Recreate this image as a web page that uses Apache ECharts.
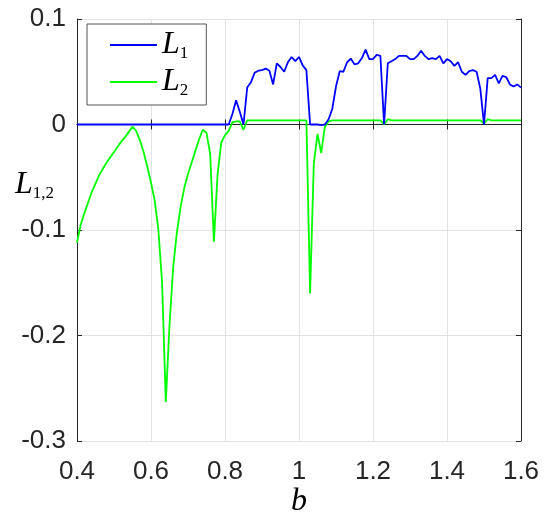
<!DOCTYPE html>
<html>
<head>
<meta charset="utf-8">
<script src="https://cdn.jsdelivr.net/npm/echarts@6/dist/echarts.min.js"></script>
<style>
  html, body { margin: 0; padding: 0; background: #fff; }
  #main { width: 544px; height: 523px; }
</style>
</head>
<body>
<div id="main"></div>
<script>
// L1 and L2 sampled every 0.01 from b = 0.40 to 1.60
const l1 = [
  0, 0, 0, 0, 0, 0, 0, 0, 0, 0,
  0, 0, 0, 0, 0, 0, 0, 0, 0, 0,
  0, 0, 0, 0, 0, 0, 0, 0, 0, 0,
  0, 0, 0, 0, 0, 0, 0, 0, 0, 0,
  0, 0, 0.010, 0.023, 0.012, 0.000, 0.035, 0.040, 0.049, 0.051,
  0.0515, 0.053, 0.051, 0.038, 0.058, 0.0545, 0.050, 0.059, 0.064, 0.060,
  0.064, 0.056, 0.0515, 0.000, 0.000, 0.000, -0.0005, 0.000, 0.005, 0.015,
  0.036, 0.0505, 0.050, 0.059, 0.0625, 0.057, 0.058, 0.063, 0.071, 0.062,
  0.062, 0.066, 0.065, 0.000, 0.058, 0.060, 0.062, 0.065, 0.065, 0.065,
  0.062, 0.062, 0.065, 0.070, 0.065, 0.062, 0.063, 0.062, 0.065, 0.058,
  0.062, 0.060, 0.0556, 0.059, 0.050, 0.047, 0.0505, 0.0515, 0.050, 0.034,
  0.000, 0.044, 0.044, 0.047, 0.039, 0.046, 0.045, 0.038, 0.036, 0.038,
  0.035
];
const l2 = [
  -0.112, -0.095, -0.084, -0.074, -0.064, -0.056, -0.048, -0.042, -0.036, -0.031,
  -0.026, -0.021, -0.016, -0.012, -0.007, -0.002, -0.006, -0.015, -0.026, -0.040,
  -0.055, -0.072, -0.100, -0.150, -0.263, -0.190, -0.135, -0.102, -0.078, -0.060,
  -0.047, -0.036, -0.025, -0.014, -0.005, -0.008, -0.028, -0.111, -0.047, -0.017,
  -0.010, -0.006, 0.002, 0.003, 0.003, -0.005, 0.004, 0.004, 0.004, 0.004,
  0.004, 0.004, 0.004, 0.004, 0.004, 0.004, 0.004, 0.004, 0.004, 0.004,
  0.004, 0.004, 0.004, -0.160, -0.037, -0.009, -0.027, -0.002, 0.003, 0.004,
  0.004, 0.004, 0.004, 0.004, 0.004, 0.004, 0.004, 0.004, 0.004, 0.004,
  0.004, 0.004, 0.004, 0.000, 0.005, 0.004, 0.004, 0.004, 0.004, 0.004,
  0.004, 0.004, 0.004, 0.004, 0.004, 0.004, 0.004, 0.004, 0.004, 0.004,
  0.004, 0.004, 0.004, 0.004, 0.004, 0.004, 0.004, 0.004, 0.004, 0.004,
  0.001, 0.005, 0.004, 0.004, 0.004, 0.004, 0.004, 0.004, 0.004, 0.004,
  0.004
];
const bStart = 0.4, bStep = 0.01;
const xTicks = [0.4, 0.6, 0.8, 1.0, 1.2, 1.4, 1.6];
const yTicks = [-0.3, -0.2, -0.1, 0, 0.1];

const xs = l1.map((_, i) => +(bStart + i * bStep).toFixed(2));
const pairs = (ys) => ys.map((y, i) => [xs[i], y]);

const tickFont = { fontFamily: "Liberation Sans, Arial", fontSize: 26, color: "#262626" };
const mathRich = {
  i: { fontFamily: "Liberation Serif", fontStyle: "italic", fontSize: 32, lineHeight: 34, color: "#000" },
  s: { fontFamily: "Liberation Serif", fontSize: 17, lineHeight: 20, verticalAlign: "bottom", color: "#000" }
};
const boxLine = { show: true, lineStyle: { color: "#262626", width: 1 } };
const inTick = { show: true, inside: true, length: 5, lineStyle: { color: "#262626" } };

const chart = echarts.init(document.getElementById("main"), null, { renderer: "canvas" });
chart.setOption({
  animation: false,
  backgroundColor: "#fff",
  grid: { left: 77, right: 23, top: 19, bottom: 82, outerBoundsMode: "none", containLabel: false },
  legend: {
    orient: "vertical",
    left: 87, top: 24,
    backgroundColor: "#fff",
    borderColor: "#555",
    borderWidth: 1,
    borderRadius: 0,
    padding: [5, 18, 6, 23],
    icon: "rect",
    itemWidth: 47,
    itemHeight: 2,
    itemGap: 4,
    itemTextGap: 3,
    data: ["L1", "L2"],
    formatter: (n) => "{i|L}{s|" + n.slice(1) + "}",
    textStyle: { rich: mathRich }
  },
  xAxis: [{
    type: "value", min: xTicks[0], max: xTicks[xTicks.length - 1], interval: 0.2,
    position: "bottom",
    axisLine: boxLine, axisTick: inTick,
    axisLabel: Object.assign({ margin: 18 }, tickFont),
    splitLine: { show: true, lineStyle: { color: "#e3e3e3", width: 1 } },
    name: "b", nameLocation: "middle", nameGap: 45, nameMoveOverlap: false,
    nameTextStyle: { fontFamily: "Liberation Serif", fontStyle: "italic", fontSize: 32, color: "#000" }
  }, {
    type: "value", min: xTicks[0], max: xTicks[xTicks.length - 1], interval: 0.2,
    position: "top",
    axisLine: boxLine, axisTick: inTick,
    axisLabel: { show: false }, splitLine: { show: false }
  }],
  yAxis: [{
    type: "value", min: yTicks[0], max: yTicks[yTicks.length - 1], interval: 0.1,
    position: "left",
    axisLine: boxLine, axisTick: inTick,
    axisLabel: Object.assign({ margin: 11 }, tickFont),
    splitLine: { show: true, lineStyle: { color: "#e3e3e3", width: 1 } }
  }, {
    type: "value", min: yTicks[0], max: yTicks[yTicks.length - 1], interval: 0.1,
    position: "right",
    axisLine: boxLine, axisTick: inTick,
    axisLabel: { show: false }, splitLine: { show: false }
  }],
  graphic: [{
    type: "text",
    left: 15, top: 169,
    style: { text: "{i|L}{s|1,2}", rich: mathRich }
  }],
  series: [{
    name: "L1", type: "line", data: pairs(l1),
    symbol: "none", lineStyle: { color: "#0000ff", width: 1.8 }, itemStyle: { color: "#0000ff" }, z: 3
  }, {
    name: "L2", type: "line", data: pairs(l2),
    symbol: "none", lineStyle: { color: "#00ff00", width: 1.8 }, itemStyle: { color: "#00ff00" }, z: 2
  }]
});
</script>
</body>
</html>
